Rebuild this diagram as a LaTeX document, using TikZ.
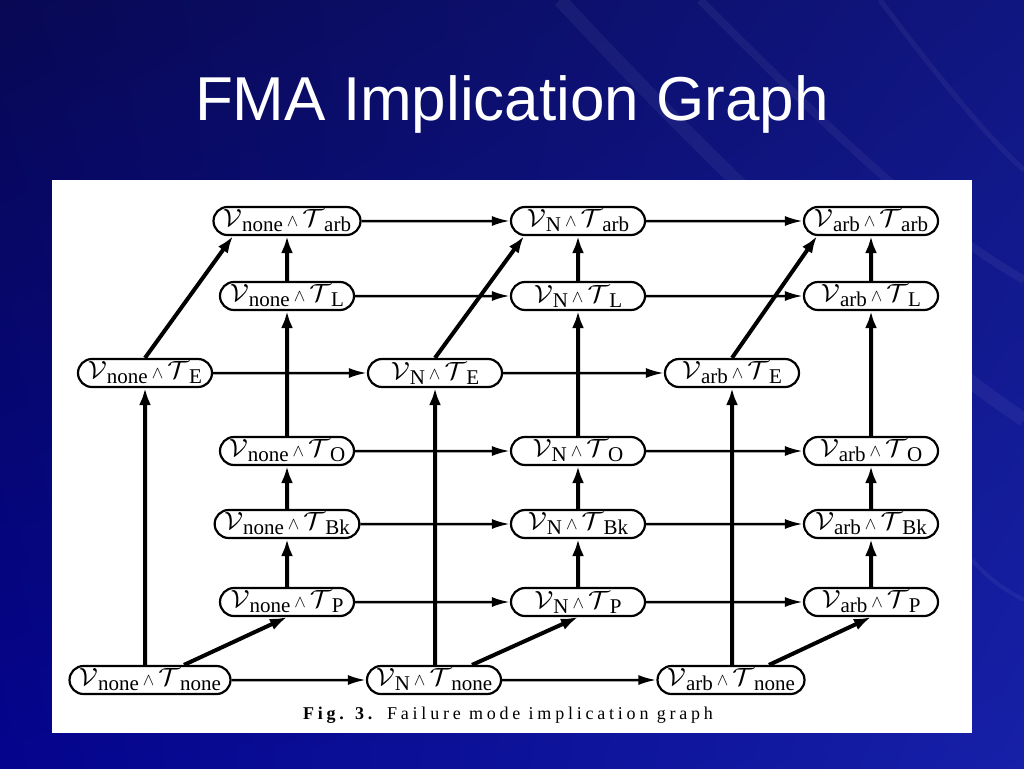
\documentclass[tikz,border=0pt]{standalone}
\usepackage{fontspec}
\usepackage{graphicx}
\setmainfont{Liberation Serif}
\newfontfamily\titlefont{Liberation Sans}
\usetikzlibrary{shapes.misc,arrows.meta,shadings}
\definecolor{slideA}{RGB}{8,8,84}
\definecolor{slideB}{RGB}{16,22,128}
\definecolor{slideC}{RGB}{4,4,142}
\definecolor{slideD}{RGB}{22,32,168}
\newcommand{\calfont}{\fontsize{23}{26}\selectfont}
\newcommand{\fmcal}[1]{\scalebox{1.1}[1]{\calfont$\mathcal{#1}$}}
\newcommand{\fmwedge}{{\fontsize{16}{16}\selectfont$\wedge$}}
\newcommand{\fmode}[2]{\fmcal{V}\raisebox{-5pt}{#1}\hspace{4pt}\fmwedge\hspace{4pt}\fmcal{T}\raisebox{-5pt}{#2}}
\tikzset{
  fm/.style={rounded rectangle, draw, line width=2.2pt, fill=white,
    minimum width=142pt, minimum height=28pt, inner xsep=4pt, inner ysep=0pt,
    font=\fontsize{21}{24}\selectfont},
  hor/.style={line width=2.5pt, -{Latex[length=18pt,width=10pt]}},
  ver/.style={line width=4pt, -{Latex[length=17pt,width=12pt]}},
  streak/.style={white, opacity=0.05, line width=#1},
}
\begin{document}
\begin{tikzpicture}[x=1pt,y=-1pt]
        \useasboundingbox (0,0) rectangle (1024,768);
        %% slide background
        \shade[upper left=slideA, upper right=slideB, lower left=slideC, lower right=slideD] (0,0) rectangle (1024,768);
        \draw[streak=14pt] (560,0) .. controls (700,150) and (850,300) .. (1024,420);
        \draw[streak=8pt] (700,0) .. controls (820,120) and (920,220) .. (1024,280);
        \draw[streak=5pt] (880,0) .. controls (940,80) and (990,140) .. (1024,170);
        \draw[streak=4pt] (972,560) .. controls (990,580) and (1005,590) .. (1024,600);
        %% title
        \node[font=\titlefont\fontsize{62}{70}\selectfont, text=white, anchor=base] (title) at (512,120) {FMA Implication Graph};
        %% figure panel
        \fill[white] (52,180) rectangle (972,733);
        %% V_none column
        \node[fm] (none-arb) at (287,221) {\fmode{none}{arb}};
        \node[fm] (none-L) at (287,296) {\fmode{none}{L}};
        \node[fm] (none-E) at (145,373) {\fmode{none}{E}};
        \node[fm] (none-O) at (287,451) {\fmode{none}{O}};
        \node[fm] (none-Bk) at (287,524) {\fmode{none}{Bk}};
        \node[fm] (none-P) at (287,602) {\fmode{none}{P}};
        \node[fm] (none-none) at (150,680) {\fmode{none}{none}};
        %% V_N column
        \node[fm] (N-arb) at (578,221) {\fmode{N}{arb}};
        \node[fm] (N-L) at (578,296) {\fmode{N}{L}};
        \node[fm] (N-E) at (435,373) {\fmode{N}{E}};
        \node[fm] (N-O) at (578,451) {\fmode{N}{O}};
        \node[fm] (N-Bk) at (578,524) {\fmode{N}{Bk}};
        \node[fm] (N-P) at (578,602) {\fmode{N}{P}};
        \node[fm] (N-none) at (434,680) {\fmode{N}{none}};
        %% V_arb column
        \node[fm] (arb-arb) at (871,221) {\fmode{arb}{arb}};
        \node[fm] (arb-L) at (871,296) {\fmode{arb}{L}};
        \node[fm] (arb-E) at (732,373) {\fmode{arb}{E}};
        \node[fm] (arb-O) at (871,451) {\fmode{arb}{O}};
        \node[fm] (arb-Bk) at (871,524) {\fmode{arb}{Bk}};
        \node[fm] (arb-P) at (871,602) {\fmode{arb}{P}};
        \node[fm] (arb-none) at (731,680) {\fmode{arb}{none}};
        %% caption
        \node[font=\fontsize{18}{20}\selectfont\addfontfeature{LetterSpace=21}] (caption) at (508,715) {\textbf{Fig. 3.} Failure mode implication graph};
        %% horizontal implications
        \draw[hor] (none-arb) -- (N-arb);
        \draw[hor] (N-arb) -- (arb-arb);
        \draw[hor] (none-L) -- (N-L);
        \draw[hor] (N-L) -- (arb-L);
        \draw[hor] (none-E) -- (N-E);
        \draw[hor] (N-E) -- (arb-E);
        \draw[hor] (none-O) -- (N-O);
        \draw[hor] (N-O) -- (arb-O);
        \draw[hor] (none-Bk) -- (N-Bk);
        \draw[hor] (N-Bk) -- (arb-Bk);
        \draw[hor] (none-P) -- (N-P);
        \draw[hor] (N-P) -- (arb-P);
        \draw[hor] (none-none) -- (N-none);
        \draw[hor] (N-none) -- (arb-none);
        %% vertical implications
        \draw[ver] (none-P) -- (none-Bk);
        \draw[ver] (none-Bk) -- (none-O);
        \draw[ver] (none-O) -- (none-L);
        \draw[ver] (none-L) -- (none-arb);
        \draw[ver] (none-E |- none-none.north) -- (none-E);
        \draw[ver] (N-P) -- (N-Bk);
        \draw[ver] (N-Bk) -- (N-O);
        \draw[ver] (N-O) -- (N-L);
        \draw[ver] (N-L) -- (N-arb);
        \draw[ver] (N-E |- N-none.north) -- (N-E);
        \draw[ver] (arb-P) -- (arb-Bk);
        \draw[ver] (arb-Bk) -- (arb-O);
        \draw[ver] (arb-O) -- (arb-L);
        \draw[ver] (arb-L) -- (arb-arb);
        \draw[ver] (arb-E |- arb-none.north) -- (arb-E);
        %% diagonal implications
        \draw[ver] (none-E.north) -- ([xshift=-54pt]none-arb.south);
        \draw[ver] (N-E.north) -- ([xshift=-54pt]N-arb.south);
        \draw[ver] (arb-E.north) -- ([xshift=-54pt]arb-arb.south);
        \draw[ver] ([xshift=34pt]none-none.north) -- (none-P.south);
        \draw[ver] ([xshift=38pt]N-none.north) -- (N-P.south);
        \draw[ver] ([xshift=38pt]arb-none.north) -- (arb-P.south);
    \end{tikzpicture}
\end{document}
